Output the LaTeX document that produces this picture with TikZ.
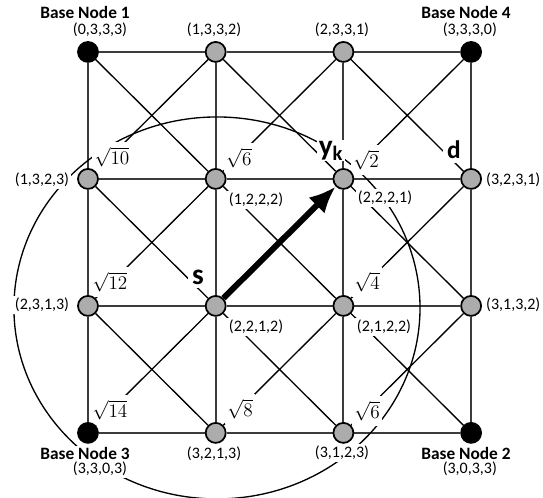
\documentclass[tikz,border=0pt]{standalone}
\usepackage{fontspec}
\setmainfont{Carlito}
\usetikzlibrary{arrows.meta, backgrounds}
\definecolor{nodeGray}{RGB}{172,172,172}
\definecolor{gridGray}{RGB}{60,60,60}

\begin{document}
\begin{tikzpicture}[x=3.367cm, y=3.348cm,
    vertex/.style={circle, draw=black, line width=1.3pt, fill=nodeGray,
        minimum size=15pt, inner sep=0pt},
    basevertex/.style={vertex, fill=black},
    gridline/.style={draw=gridGray, line width=1.4pt},
    diagline/.style={draw=black, line width=1pt},
    coordlabel/.style={fill=white, inner sep=1.5pt, font=\fontsize{12}{14}\selectfont},
    baselabel/.style={fill=white, inner sep=1pt, font=\bfseries\fontsize{13}{15}\selectfont},
    distlabel/.style={fill=white, inner xsep=2pt, inner ysep=4pt, font=\fontsize{13.5}{16}\selectfont},
    namelabel/.style={fill=white, inner sep=3pt, font=\bfseries\fontsize{22}{24}\selectfont}]

    \useasboundingbox (-0.689,-0.512) rectangle (3.563,3.409);

    % NODES
    % Row 3 (top)
    \node[basevertex] (n03) at (0,3) {};
    \node[vertex] (n13) at (1,3) {};
    \node[vertex] (n23) at (2,3) {};
    \node[basevertex] (n33) at (3,3) {};
    % Row 2
    \node[vertex] (n02) at (0,2) {};
    \node[vertex] (n12) at (1,2) {};
    \node[vertex] (n22) at (2,2) {};
    \node[vertex] (n32) at (3,2) {};
    % Row 1
    \node[vertex] (n01) at (0,1) {};
    \node[vertex] (n11) at (1,1) {};
    \node[vertex] (n21) at (2,1) {};
    \node[vertex] (n31) at (3,1) {};
    % Row 0 (bottom)
    \node[basevertex] (n00) at (0,0) {};
    \node[vertex] (n10) at (1,0) {};
    \node[vertex] (n20) at (2,0) {};
    \node[basevertex] (n30) at (3,0) {};

    \begin{scope}[on background layer]
    % GRID
    \draw[gridline] (n03) -- (n13) -- (n23) -- (n33);
    \draw[gridline] (n02) -- (n12) -- (n22) -- (n32);
    \draw[gridline] (n01) -- (n11) -- (n21) -- (n31);
    \draw[gridline] (n00) -- (n10) -- (n20) -- (n30);
    \draw[gridline] (n00) -- (n01) -- (n02) -- (n03);
    \draw[gridline] (n10) -- (n11) -- (n12) -- (n13);
    \draw[gridline] (n20) -- (n21) -- (n22) -- (n23);
    \draw[gridline] (n30) -- (n31) -- (n32) -- (n33);

    % DIAGONALS
    \draw[diagline] (n01) -- (n10);
    \draw[diagline] (n02) -- (n11) -- (n20);
    \draw[diagline] (n03) -- (n12) -- (n21) -- (n30);
    \draw[diagline] (n13) -- (n22) -- (n31);
    \draw[diagline] (n23) -- (n32);
    \draw[diagline] (n00) -- (n11);
    \draw[diagline] (n22) -- (n33);
    \draw[diagline] (n01) -- (n12) -- (n23);
    \draw[diagline] (n02) -- (n13);
    \draw[diagline] (n10) -- (n21) -- (n32);
    \draw[diagline] (n20) -- (n31);

    % RING AROUND s
    \draw[diagline] (1.01,0.984) ellipse [x radius=1.59, y radius=1.504];

    % COORDINATE LABELS
    \node[coordlabel] (c03) at (0.094,3.173) {(0,3,3,3)};
    \node[coordlabel] (c13) at (0.987,3.173) {(1,3,3,2)};
    \node[coordlabel] (c23) at (1.989,3.173) {(2,3,3,1)};
    \node[coordlabel] (c33) at (2.99,3.173) {(3,3,3,0)};
    \node[coordlabel] (c02) at (-0.36,1.99) {(1,3,2,3)};
    \node[coordlabel] (c12) at (1.316,1.835) {(1,2,2,2)};
    \node[coordlabel] (c22) at (2.326,1.85) {(2,2,2,1)};
    \node[coordlabel] (c32) at (3.33,1.99) {(3,2,3,1)};
    \node[coordlabel] (c01) at (-0.36,1.008) {(2,3,1,3)};
    \node[coordlabel] (c11) at (1.316,0.835) {(2,2,1,2)};
    \node[coordlabel] (c21) at (2.318,0.835) {(2,1,2,2)};
    \node[coordlabel] (c31) at (3.33,1.008) {(3,1,3,2)};
    \node[coordlabel] (c00) at (0.094,-0.283) {(3,3,0,3)};
    \node[coordlabel] (c10) at (0.987,-0.165) {(3,2,1,3)};
    \node[coordlabel] (c20) at (1.989,-0.157) {(3,1,2,3)};
    \node[coordlabel] (c30) at (2.99,-0.283) {(3,0,3,3)};

    % BASE NODES
    \node[baselabel] (b1) at (-0.023,3.307) {Base Node 1};
    \node[baselabel] (b4) at (2.96,3.307) {Base Node 4};
    \node[baselabel] (b3) at (-0.023,-0.161) {Base Node 3};
    \node[baselabel] (b2) at (2.96,-0.161) {Base Node 2};

    % DISTANCES
    \node[distlabel] (q02) at (0.188,2.173) {$\sqrt{10}$};
    \node[distlabel] (q12) at (1.182,2.165) {$\sqrt{6}$};
    \node[distlabel] (q22) at (2.177,2.15) {$\sqrt{2}$};
    \node[distlabel] (q01) at (0.172,1.189) {$\sqrt{12}$};
    \node[distlabel] (q21) at (2.185,1.189) {$\sqrt{4}$};
    \node[distlabel] (q00) at (0.172,0.181) {$\sqrt{14}$};
    \node[distlabel] (q10) at (1.19,0.189) {$\sqrt{8}$};
    \node[distlabel] (q20) at (2.185,0.173) {$\sqrt{6}$};

    % s, d, y_k
    \node[namelabel, inner sep=1pt] (yk) at (1.903,2.224) {y\textsubscript{k}};
    \node[namelabel, font=\bfseries\fontsize{19}{21}\selectfont] (dst) at (2.866,2.228) {d};
    \node[namelabel] (src) at (0.861,1.228) {s};
    \end{scope}

    % PATH s -> y_k
    \draw[line width=4.5pt, -{Latex[length=20pt,width=17pt]}] (n11) -- (n22);
\end{tikzpicture}
\end{document}
